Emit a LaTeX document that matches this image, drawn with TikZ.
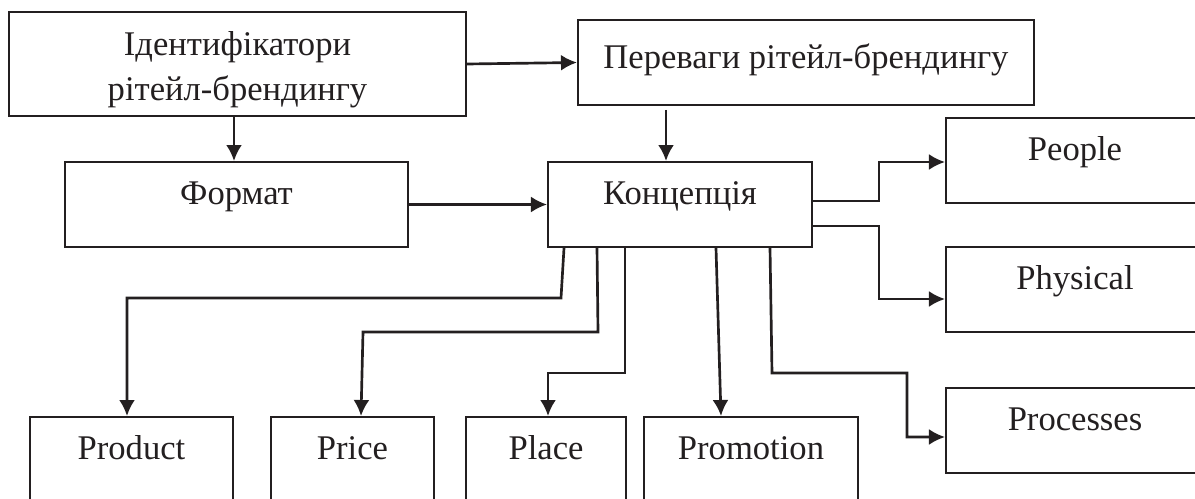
\documentclass[tikz,border=0pt]{standalone}
\usepackage{fontspec}
\setmainfont{Liberation Serif}
\usetikzlibrary{arrows.meta}
\definecolor{myblack}{RGB}{35, 31, 32}
\tikzset{>={Latex[length=0.4cm, width=0.4cm]}}
\tikzset{blok/.style={draw=myblack, line width=1.4pt, inner sep=0pt, text=myblack,
    font=\fontsize{24.6}{32}\selectfont, minimum height=2.125cm,
    text height=1.05cm, text depth=1.075cm},
  strilka/.style={->, draw=myblack, line width=1.9pt}}

\begin{document}
\begin{tikzpicture}[x=0.025cm, y=-0.025cm]
\useasboundingbox (0,0) rectangle (1195,499);
\clip (0,0) rectangle (1195,499);
% boxes
\node[blok, align=center, minimum width=11.425cm, minimum height=2.6cm, text height=2.2cm, text depth=0.4cm] (ident) at (237.5,64) {Ідентифікатори\\рітейл-брендингу};
\node[blok, minimum width=11.4cm, text height=1.2cm, text depth=0.925cm] (perev) at (806,62.5) {Переваги рітейл-брендингу};
\node[blok, minimum width=8.575cm] (format) at (236.5,204.5) {Формат};
\node[blok, minimum width=6.6cm] (konc) at (680,204.5) {Концепція};
\node[blok, minimum width=6.45cm] (people) at (1075,160.5) {People};
\node[blok, minimum width=6.45cm] (physical) at (1075,289.5) {Physical};
\node[blok, minimum width=6.45cm] (processes) at (1075,430.5) {Processes};
\node[blok, minimum width=5.075cm] (product) at (131.5,459.5) {Product};
\node[blok, minimum width=4.075cm] (price) at (352.5,459.5) {Price};
\node[blok, minimum width=4cm] (place) at (546,459.5) {Place};
\node[blok, minimum width=5.35cm] (promotion) at (751,459.5) {Promotion};
% arrows
\draw[strilka] (ident.east) -- (perev.west);
\draw[strilka] (ident.south -| 234,0) -- (format.north -| 234,0);
\draw[strilka] (format) -- (konc);
\draw[strilka, shorten <=0.1cm] (perev.south -| 666,0) -- (konc.north -| 666,0);
\draw[strilka] (konc.east |- 0,201) -| (879,162) -- (people.west |- 0,162);
\draw[strilka] (konc.east |- 0,226) -| (879,299) -- (physical.west |- 0,299);
\draw[strilka] (konc.south -| 564,0) -- (561,298) -| (product.north -| 127,0);
\draw[strilka] (konc.south -| 597,0) -- (598,332) -- (363,332) -- (price.north -| 361,0);
\draw[strilka] (konc.south -| 625,0) |- (548,373) -- (place.north -| 548,0);
\draw[strilka] (konc.south -| 716,0) -- (promotion.north -| 721,0);
\draw[strilka] (konc.south -| 770,0) -- (772,373) -| (907,437) -- (processes.west |- 0,437);
\end{tikzpicture}
\end{document}
